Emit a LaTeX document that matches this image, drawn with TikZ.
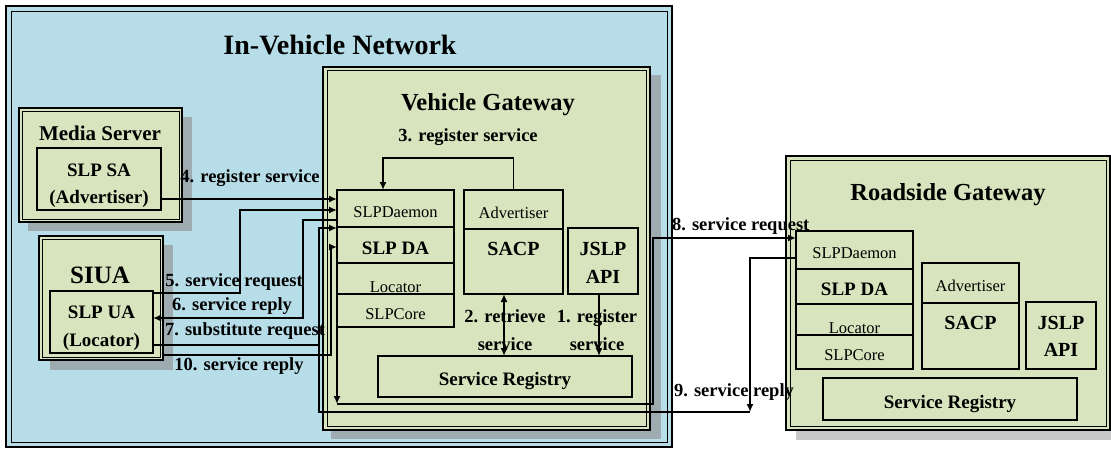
\documentclass[tikz,border=0pt]{standalone}
\usepackage{fontspec}
\setmainfont{Liberation Serif}
\usetikzlibrary{arrows.meta,calc}
\definecolor{netblue}{RGB}{183,221,232}
\definecolor{gwgreen}{RGB}{215,228,189}
\definecolor{shadowblue}{RGB}{158,172,178}
\definecolor{shadowgray}{RGB}{200,200,200}
\begin{document}
\begin{tikzpicture}[x=1pt,y=-1pt,
  every node/.style={outer sep=0pt, inner sep=0pt},
  bf/.style={font=\bfseries\fontsize{#1}{#1}\selectfont},
  rm/.style={font=\fontsize{#1}{#1}\selectfont},
  low/.style={text height=#1, text depth=0pt},
  frame/.style={draw, fill=gwgreen, anchor=north west},
  part/.style={draw, line width=1.1pt, fill=gwgreen, anchor=north west},
  conn/.style={line width=1.6pt},
  >={Latex[length=8pt,width=7pt]},
]
\useasboundingbox (0,0) rectangle (1111,452);
\fill[white] (0,0) rectangle (1111,452);

% ---------- In-Vehicle Network ----------
\node[draw, line width=2.8pt, fill=netblue, minimum width=666, minimum height=441, anchor=north west] (net) at (6,6) {};
\draw[line width=0.9pt] ($(net.north west)+(5,5)$) rectangle ($(net.south east)+(-5,-5)$);
\node[bf=28] (nettitle) at (340,45) {In-Vehicle Network};

% ---------- Vehicle Gateway ----------
\fill[shadowblue] (331,75) rectangle (661,439);
\node[frame, line width=2pt, minimum width=327, minimum height=363] (vg) at (323,67) {};
\draw[line width=1pt] ($(vg.north west)+(4,4)$) rectangle ($(vg.south east)+(-4,-4)$);
\node[bf=24.5] (vgtitle) at (488,105) {Vehicle Gateway};

\node[part, rm=16.5, low=17pt, minimum width=117, minimum height=37] (vdaemon) at (337,190) {SLPDaemon};
\node[part, bf=19, low=18.5pt, minimum width=117, minimum height=36] (vda) at (337,227) {SLP DA};
\node[part, minimum width=117, minimum height=31] (vloc) at (337,263) {};
\node[rm=16.5, anchor=base] (vloctext) at (395.5,292) {Locator};
\node[part, rm=16.5, low=17pt, minimum width=117, minimum height=33] (vcore) at (337,294) {SLPCore};
\node[part, rm=16.5, low=17pt, minimum width=99, minimum height=39] (vadv) at (464,190) {Advertiser};
\node[part, minimum width=99, minimum height=65] (vsacp) at (464,229) {};
\node[bf=20, anchor=base] (vsacptext) at (513.5,255.5) {SACP};
\node[part, minimum width=70, minimum height=66] (vjslp) at (568,228) {};
\node[bf=20, anchor=base] (vjslp1) at (603,255.5) {JSLP};
\node[bf=20, anchor=base] (vjslp2) at (603,283.5) {API};
\node[part, bf=19, low=18.5pt, minimum width=254, minimum height=41] (vreg) at (378,356) {Service Registry};

% ---------- Media Server ----------
\fill[shadowblue] (28,117) rectangle (192,231);
\node[frame, line width=1.8pt, minimum width=163, minimum height=114] (ms) at (19,108) {};
\draw[line width=0.9pt] ($(ms.north west)+(3,3)$) rectangle ($(ms.south east)+(-3,-3)$);
\node[bf=21] (mstitle) at (100,133) {Media Server};
\node[part, minimum width=124, minimum height=62] (sa) at (37,148) {};
\node[bf=19, anchor=base] (sa1) at (99,176) {SLP SA};
\node[bf=19, anchor=base] (sa2) at (99,203) {(Advertiser)};

% ---------- SIUA ----------
\fill[shadowblue] (50,245) rectangle (173,370);
\node[frame, line width=2.2pt, minimum width=124, minimum height=124] (siua) at (39,236) {};
\draw[line width=0.9pt] ($(siua.north west)+(3,3)$) rectangle ($(siua.south east)+(-3,-3)$);
\node[bf=25] (siuatitle) at (100,275) {SIUA};
\node[part, minimum width=103, minimum height=62] (ua) at (50,291) {};
\node[bf=19, anchor=base] (ua1) at (101.5,318) {SLP UA};
\node[bf=19, anchor=base] (ua2) at (101.5,346) {(Locator)};

% ---------- Roadside Gateway ----------
\fill[shadowgray] (796,166) rectangle (1125,440);
\node[frame, line width=2pt, minimum width=324, minimum height=274] (rg) at (786,156) {};
\draw[line width=1pt] ($(rg.north west)+(4,4)$) rectangle ($(rg.south east)+(-4,-4)$);
\node[bf=24.5] (rgtitle) at (948,195) {Roadside Gateway};

\node[part, rm=16.5, low=17pt, minimum width=117, minimum height=38] (rdaemon) at (796,231) {SLPDaemon};
\node[part, bf=19, low=18.5pt, minimum width=117, minimum height=35] (rda) at (796,269) {SLP DA};
\node[part, minimum width=117, minimum height=31] (rloc) at (796,304) {};
\node[rm=16.5, anchor=base] (rloctext) at (854.5,333) {Locator};
\node[part, rm=16.5, low=17pt, minimum width=117, minimum height=34] (rcore) at (796,335) {SLPCore};
\node[part, rm=16.5, low=17pt, minimum width=97, minimum height=40] (radv) at (922,263) {Advertiser};
\node[part, minimum width=97, minimum height=66] (rsacp) at (922,303) {};
\node[bf=20, anchor=base] (rsacptext) at (970.5,329.5) {SACP};
\node[part, minimum width=70, minimum height=67] (rjslp) at (1026,302) {};
\node[bf=20, anchor=base] (rjslp1) at (1061,329.5) {JSLP};
\node[bf=20, anchor=base] (rjslp2) at (1061,356.5) {API};
\node[part, bf=19, low=18.5pt, minimum width=254, minimum height=42] (rreg) at (823,378) {Service Registry};

% ---------- connectors ----------
% 1, 2, 3 inside the vehicle gateway
\draw[conn,->] ($(vjslp.south)+(-4,0)$) -- ($(vreg.north west)+(221,0)$);
\draw[conn,<->] ($(vsacp.south west)+(40,0)$) -- ($(vreg.north west)+(126,0)$);
\draw[conn,->] (vadv.north) |- ($(vdaemon.north west)+(46,-32)$) -- ($(vdaemon.north west)+(46,0)$);
% 4
\draw[conn,->] ($(sa.south east)+(0,-11)$) coordinate (s4) -- (s4 -| vdaemon.west);
% 5
\draw[conn,->] ($(ua.north east)+(0,2)$) -| (240,210) coordinate (b5) -- (b5 -| vdaemon.west);
% 6
\draw[conn,->] ($(vdaemon.north west)+(0,30)$) -| (303,318) -- ($(ua.north east)+(0,27)$);
% 7
\draw[conn,->] ($(ua.north east)+(0,54)$) -| (319,228) -- ($(vda.north west)+(0,1)$);
% 10
\draw[conn,->] ($(siua.north east)+(0,119)$) -| (331,247) -- ($(vda.north west)+(0,20)$);
% 8
\draw[conn,->] ($(vda.north west)+(0,25)$) -- (337,404);
\draw[conn,->] (337,404) -| (653,238) -- ($(rdaemon.north west)+(0,7)$);
% 9
\draw[conn,->] ($(rdaemon.north west)+(0,27)$) -| (750,412);
\draw[conn] (750,412) -- (319,412) -- (319,345);

% ---------- labels ----------
\node[bf=18.5] (l3) at (468,137) {3. register service};
\node[bf=18.5, anchor=base] (l2a) at (505,322) {2. retrieve};
\node[bf=18.5, anchor=base] (l2b) at (505,350) {service};
\node[bf=18.5, anchor=base] (l1a) at (597,322) {1. register};
\node[bf=18.5, anchor=base] (l1b) at (597,350) {service};
\node[bf=18.5] (l4) at (250,178) {4. register service};
\node[bf=18.5] (l5) at (234,282) {5. service request};
\node[bf=18.5] (l6) at (232,306) {6. service reply};
\node[bf=18.5] (l7) at (245,331) {7. substitute request};
\node[bf=18.5] (l10) at (239,366) {10. service reply};
\node[bf=18.5, anchor=west] (l8) at (672,226) {8. service request};
\node[bf=18.5, anchor=west] (l9) at (674,392) {9. service reply};
\end{tikzpicture}
\end{document}
